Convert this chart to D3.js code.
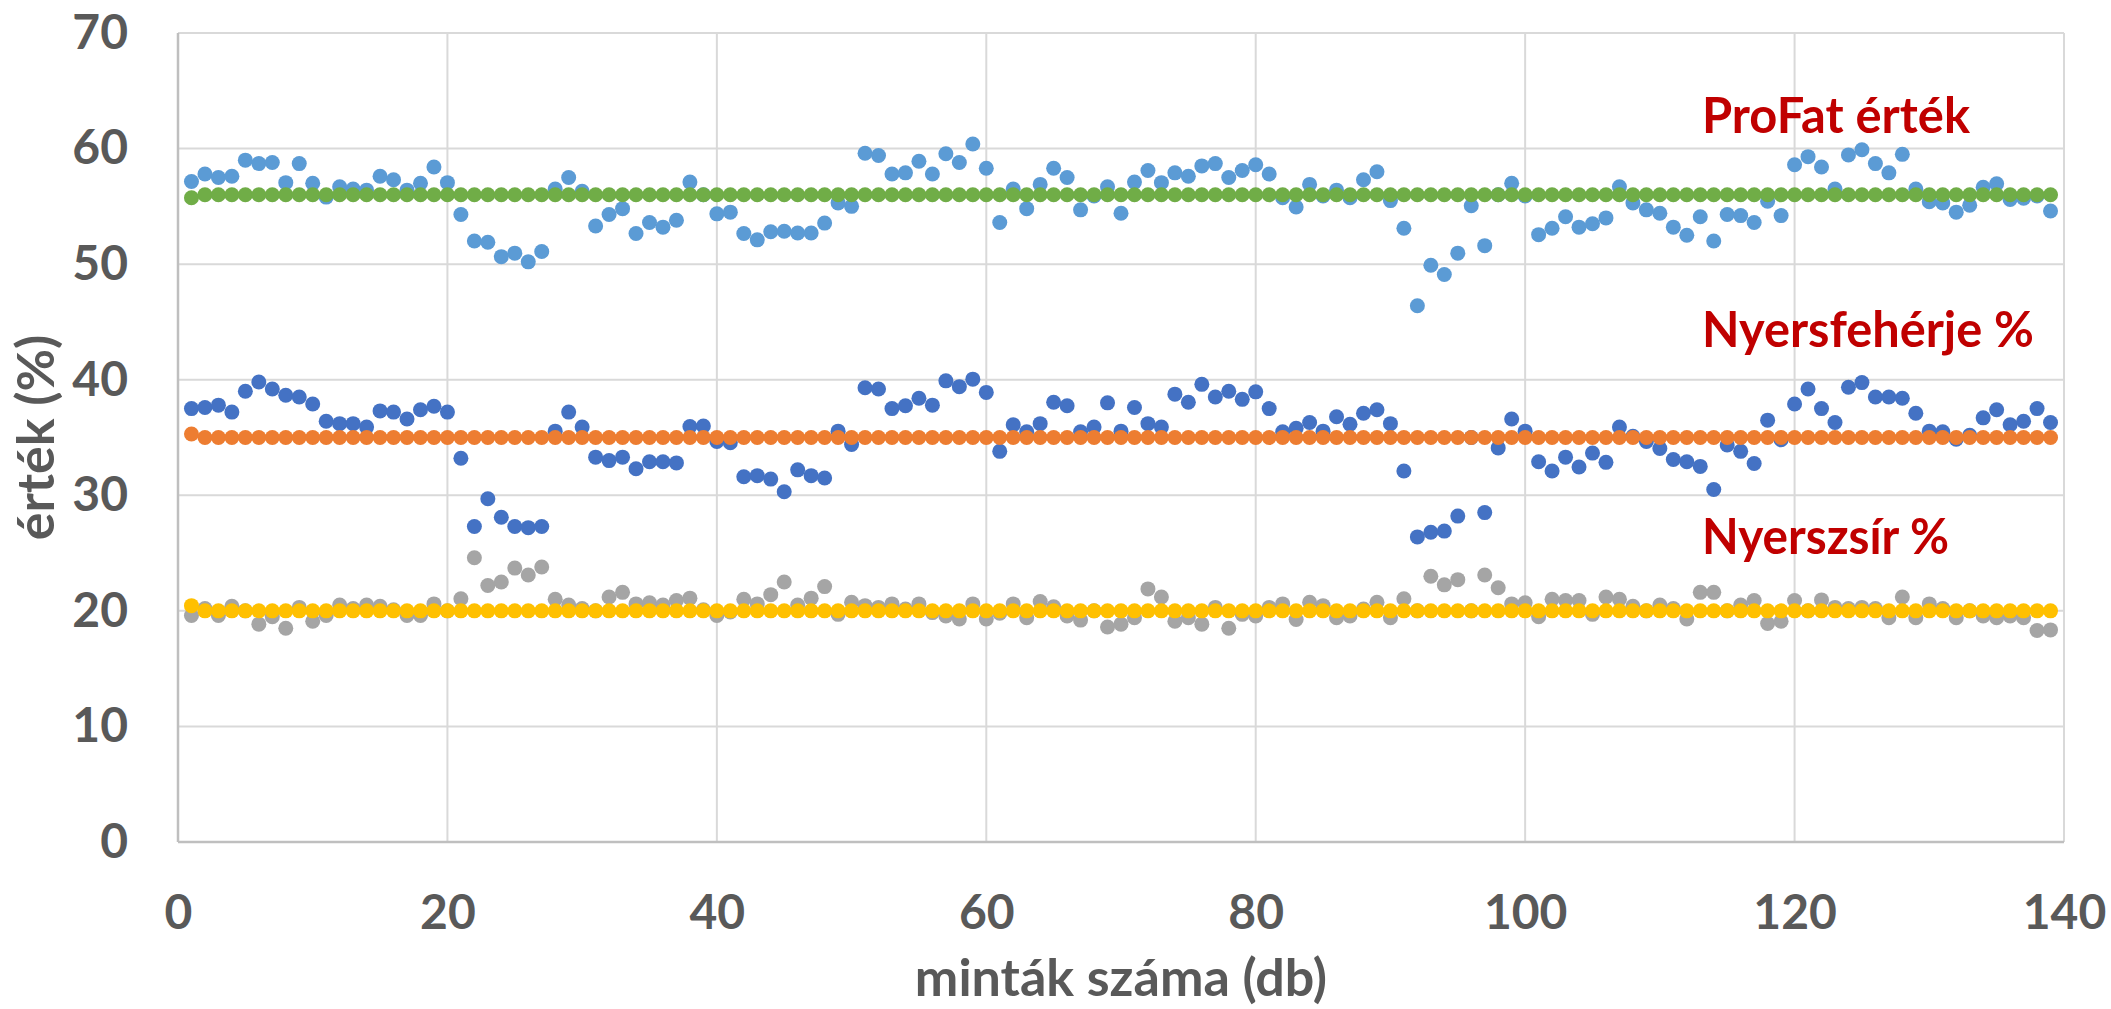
<!DOCTYPE html>
<html>
<head>
<meta charset="utf-8">
<script src="https://cdn.jsdelivr.net/npm/d3@7"></script>
<style>
  html, body { margin: 0; padding: 0; background: #ffffff; }
  svg { display: block; }
  text { font-family: Lato, "Open Sans", "Liberation Sans", sans-serif; font-weight: 700; }
</style>
</head>
<body>
<svg id="chart" width="2111" height="1009"></svg>
<script>
// Sample numbers (x), 1..139
const samples = [
  1,2,3,4,5,6,7,8,9,10,11,12,13,14,15,16,17,18,19,20,
  21,22,23,24,25,26,27,28,29,30,31,32,33,34,35,36,37,38,39,40,
  41,42,43,44,45,46,47,48,49,50,51,52,53,54,55,56,57,58,59,60,
  61,62,63,64,65,66,67,68,69,70,71,72,73,74,75,76,77,78,79,80,
  81,82,83,84,85,86,87,88,89,90,91,92,93,94,95,96,97,98,99,100,
  101,102,103,104,105,106,107,108,109,110,111,112,113,114,115,116,117,118,119,120,
  121,122,123,124,125,126,127,128,129,130,131,132,133,134,135,136,137,138,139
];

// Measured ProFat value
const profat = [
  57.15,57.8,57.5,57.6,59.0,58.7,58.8,57.05,58.7,57.0,55.8,56.7,56.5,56.4,57.6,57.3,56.4,57.0,58.4,57.05,
  54.3,52.0,51.9,50.65,50.95,50.2,51.1,56.5,57.5,56.3,53.3,54.3,54.8,52.65,53.6,53.2,53.8,57.1,56.0,54.35,
  54.5,52.65,52.1,52.8,52.85,52.7,52.7,53.55,55.3,55.0,59.6,59.4,57.8,57.9,58.9,57.8,59.55,58.8,60.4,58.3,
  53.6,56.5,54.8,56.9,58.3,57.5,54.7,55.9,56.7,54.4,57.1,58.1,57.05,57.9,57.6,58.5,58.7,57.5,58.1,58.6,
  57.8,55.75,54.95,56.9,55.9,56.4,55.75,57.3,58.0,55.5,53.1,46.4,49.9,49.1,50.95,55.05,51.6,56.0,57.0,55.9,
  52.55,53.1,54.1,53.2,53.5,54.0,56.7,55.3,54.7,54.4,53.2,52.5,54.1,52.0,54.3,54.2,53.6,55.45,54.2,58.6,
  59.3,58.4,56.5,59.45,59.9,58.7,57.9,59.5,56.5,55.4,55.3,54.5,55.1,56.65,56.95,55.6,55.7,55.9,54.6
];

// Measured crude protein %
const protein = [
  37.5,37.6,37.8,37.2,39.0,39.8,39.2,38.65,38.5,37.9,36.4,36.2,36.2,35.9,37.3,37.2,36.6,37.4,37.7,37.2,
  33.2,27.3,29.7,28.1,27.3,27.2,27.3,35.55,37.2,35.9,33.3,33.0,33.3,32.3,32.9,32.9,32.8,35.95,36.0,34.65,
  34.55,31.6,31.7,31.4,30.3,32.2,31.7,31.5,35.55,34.4,39.3,39.2,37.5,37.75,38.4,37.8,39.9,39.4,40.05,38.9,
  33.8,36.1,35.5,36.2,38.05,37.75,35.5,35.9,38.0,35.55,37.6,36.2,35.9,38.75,38.05,39.6,38.5,39.0,38.3,38.95,
  37.5,35.5,35.8,36.3,35.55,36.8,36.15,37.1,37.4,36.2,32.1,26.4,26.8,26.9,28.2,35.0,28.5,34.1,36.6,35.55,
  32.9,32.1,33.3,32.45,33.65,32.85,35.9,35.1,34.65,34.05,33.1,32.9,32.5,30.5,34.35,33.8,32.75,36.5,34.8,37.9,
  39.2,37.5,36.3,39.35,39.75,38.5,38.5,38.4,37.1,35.55,35.5,34.85,35.2,36.7,37.4,36.1,36.4,37.5,36.3
];

// Measured crude fat %
const fat = [
  19.6,20.2,19.6,20.4,20.0,18.85,19.5,18.5,20.3,19.1,19.6,20.5,20.2,20.5,20.4,20.1,19.6,19.6,20.6,20.0,
  21.05,24.6,22.2,22.5,23.7,23.1,23.8,21.0,20.5,20.2,20.0,21.2,21.6,20.6,20.7,20.5,20.9,21.1,20.1,19.6,
  19.9,21.0,20.6,21.4,22.5,20.5,21.1,22.1,19.7,20.75,20.45,20.3,20.6,20.15,20.6,19.85,19.55,19.3,20.6,19.3,
  19.8,20.6,19.4,20.8,20.35,19.55,19.2,20.0,18.6,18.85,19.4,21.9,21.2,19.1,19.4,18.85,20.3,18.5,19.7,19.55,
  20.3,20.6,19.25,20.75,20.45,19.4,19.55,20.15,20.75,19.4,21.05,20.0,23.0,22.25,22.7,20.0,23.1,22.0,20.6,20.7,
  19.5,21.0,20.9,20.9,19.7,21.2,21.0,20.4,20.0,20.5,20.2,19.3,21.6,21.6,20.0,20.5,20.9,18.9,19.1,20.9,
  20.0,20.95,20.3,20.2,20.3,20.2,19.4,21.2,19.4,20.6,20.2,19.4,20.0,19.55,19.4,19.55,19.4,18.3,18.35
];

// Reference (target) values
const profatRef = [
  55.75,56,56,56,56,56,56,56,56,56,56,56,56,56,56,56,56,56,56,56,
  56,56,56,56,56,56,56,56,56,56,56,56,56,56,56,56,56,56,56,56,
  56,56,56,56,56,56,56,56,56,56,56,56,56,56,56,56,56,56,56,56,
  56,56,56,56,56,56,56,56,56,56,56,56,56,56,56,56,56,56,56,56,
  56,56,56,56,56,56,56,56,56,56,56,56,56,56,56,56,56,56,56,56,
  56,56,56,56,56,56,56,56,56,56,56,56,56,56,56,56,56,56,56,56,
  56,56,56,56,56,56,56,56,56,56,56,56,56,56,56,56,56,56,56
];
const proteinRef = [
  35.3,35,35,35,35,35,35,35,35,35,35,35,35,35,35,35,35,35,35,35,
  35,35,35,35,35,35,35,35,35,35,35,35,35,35,35,35,35,35,35,35,
  35,35,35,35,35,35,35,35,35,35,35,35,35,35,35,35,35,35,35,35,
  35,35,35,35,35,35,35,35,35,35,35,35,35,35,35,35,35,35,35,35,
  35,35,35,35,35,35,35,35,35,35,35,35,35,35,35,35,35,35,35,35,
  35,35,35,35,35,35,35,35,35,35,35,35,35,35,35,35,35,35,35,35,
  35,35,35,35,35,35,35,35,35,35,35,35,35,35,35,35,35,35,35
];
const fatRef = [
  20.45,20,20,20,20,20,20,20,20,20,20,20,20,20,20,20,20,20,20,20,
  20,20,20,20,20,20,20,20,20,20,20,20,20,20,20,20,20,20,20,20,
  20,20,20,20,20,20,20,20,20,20,20,20,20,20,20,20,20,20,20,20,
  20,20,20,20,20,20,20,20,20,20,20,20,20,20,20,20,20,20,20,20,
  20,20,20,20,20,20,20,20,20,20,20,20,20,20,20,20,20,20,20,20,
  20,20,20,20,20,20,20,20,20,20,20,20,20,20,20,20,20,20,20,20,
  20,20,20,20,20,20,20,20,20,20,20,20,20,20,20,20,20,20,20
];

const xTicks = [0, 20, 40, 60, 80, 100, 120, 140];
const yTicks = [0, 10, 20, 30, 40, 50, 60, 70];

const seriesList = [
  { values: profat,     color: "#5B9BD5" },
  { values: protein,    color: "#4472C4" },
  { values: fat,        color: "#A5A5A5" },
  { values: profatRef,  color: "#70AD47" },
  { values: proteinRef, color: "#ED7D31" },
  { values: fatRef,     color: "#FFC000" }
];

const labels = [
  { text: "ProFat érték",    x: 1702, y: 133, len: 268 },
  { text: "Nyersfehérje %",  x: 1702, y: 347, len: 332 },
  { text: "Nyerszsír %",     x: 1702, y: 554, len: 247 }
];

const svg = d3.select("#chart");
const plot = { left: 178, right: 2064, top: 33, bottom: 842 };

const x = d3.scaleLinear().domain([0, 140]).range([plot.left, plot.right]);
const y = d3.scaleLinear().domain([0, 70]).range([plot.bottom, plot.top]);

svg.append("rect").attr("width", 2111).attr("height", 1009).attr("fill", "#ffffff");

// Gridlines
svg.append("g").selectAll("line").data(yTicks.filter(d => d > 0)).join("line")
  .attr("x1", plot.left).attr("x2", plot.right)
  .attr("y1", d => y(d)).attr("y2", d => y(d))
  .attr("stroke", "#D9D9D9").attr("stroke-width", 2);
svg.append("g").selectAll("line").data(xTicks.filter(d => d > 0)).join("line")
  .attr("x1", d => x(d)).attr("x2", d => x(d))
  .attr("y1", plot.top).attr("y2", plot.bottom)
  .attr("stroke", "#D9D9D9").attr("stroke-width", 2);

// Axis lines
svg.append("line").attr("x1", plot.left).attr("x2", plot.left)
  .attr("y1", plot.top).attr("y2", plot.bottom)
  .attr("stroke", "#BFBFBF").attr("stroke-width", 2.5);
svg.append("line").attr("x1", plot.left).attr("x2", plot.right)
  .attr("y1", plot.bottom).attr("y2", plot.bottom)
  .attr("stroke", "#BFBFBF").attr("stroke-width", 2.5);

// Tick labels
const yAxis = svg.append("g").attr("transform", `translate(${plot.left},0)`)
  .call(d3.axisLeft(y).tickValues(yTicks).tickSize(0).tickPadding(50));
const xAxis = svg.append("g").attr("transform", `translate(0,${plot.bottom})`)
  .call(d3.axisBottom(x).tickValues(xTicks).tickSize(0).tickPadding(53));
[yAxis, xAxis].forEach(g => {
  g.select(".domain").remove();
  g.selectAll("text")
    .attr("fill", "#595959")
    .style("font-size", "48px")
    .style("font-family", "Lato, 'Open Sans', sans-serif")
    .style("font-weight", 700);
});

// Data points
seriesList.forEach(s => {
  svg.append("g").selectAll("circle").data(s.values).join("circle")
    .attr("cx", (d, i) => x(samples[i]))
    .attr("cy", d => y(d))
    .attr("r", 7.5)
    .attr("fill", s.color);
});

// Axis titles
svg.append("text")
  .attr("x", (plot.left + plot.right) / 2).attr("y", 996)
  .attr("text-anchor", "middle")
  .attr("fill", "#595959").style("font-size", "52px")
  .text("minták száma (db)");

svg.append("text")
  .attr("transform", `translate(54,${(plot.top + plot.bottom) / 2}) rotate(-90)`)
  .attr("text-anchor", "middle")
  .attr("fill", "#595959").style("font-size", "52px")
  .text("érték (%)");

// Series annotations
svg.append("g").selectAll("text").data(labels).join("text")
  .attr("x", d => d.x).attr("y", d => d.y)
  .attr("fill", "#C00000").style("font-size", "50px")
  .attr("textLength", d => d.len).attr("lengthAdjust", "spacingAndGlyphs")
  .text(d => d.text);
</script>
</body>
</html>
